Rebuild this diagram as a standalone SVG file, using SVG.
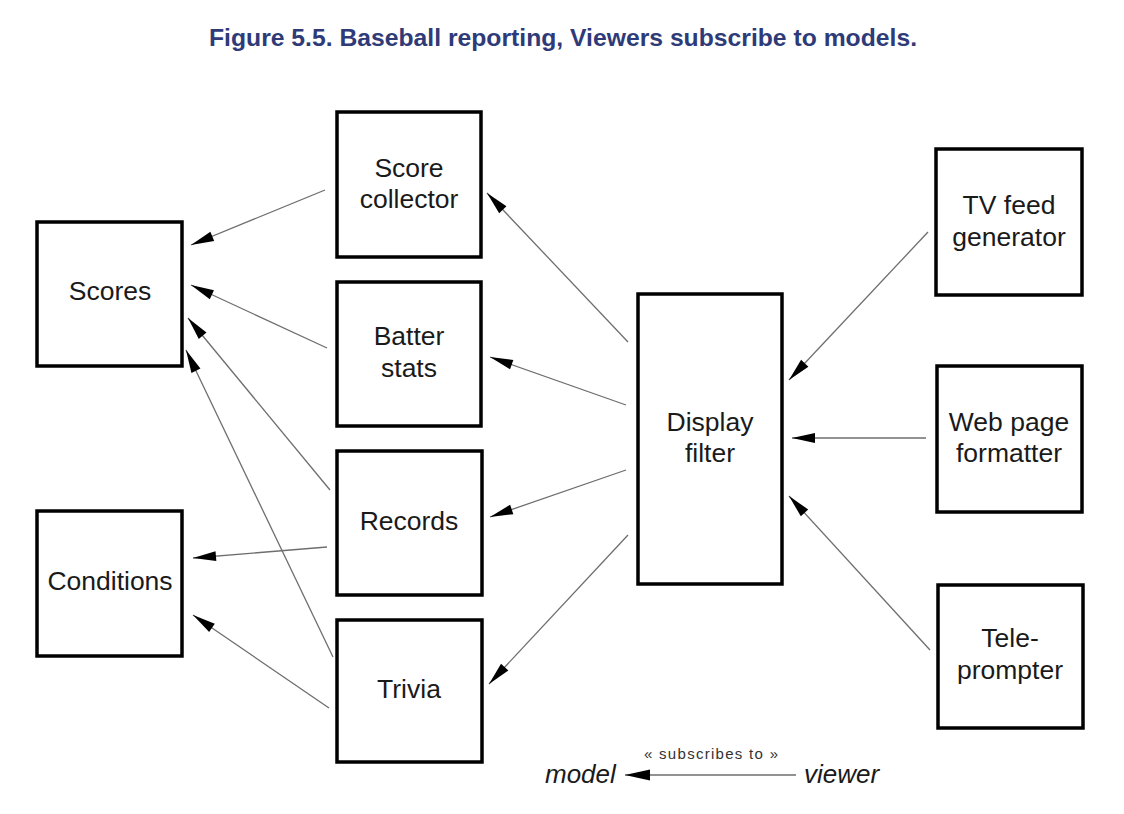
<svg xmlns="http://www.w3.org/2000/svg" width="1124" height="814" viewBox="0 0 1124 814">
<defs>
<style>
.box{fill:#fff;stroke:#000;stroke-width:3.5}
.lbl{font-family:"Liberation Sans",Arial,sans-serif;font-size:26.5px;fill:#1a1a1a;text-anchor:middle}
.con{stroke:#6e6e6e;stroke-width:1.3;fill:none;marker-end:url(#ah)}
.title{font-family:"Liberation Sans",Arial,sans-serif;font-size:24px;font-weight:bold;fill:#2e3b78;text-anchor:middle}
.leg{font-family:"Liberation Sans",Arial,sans-serif;font-size:26px;font-style:italic;fill:#1a1a1a}
</style>
<marker id="ah" markerUnits="userSpaceOnUse" markerWidth="26" markerHeight="12" viewBox="0 -6 24 12" refX="23" refY="0" orient="auto">
<path d="M0,-5 L23,0 L0,5 Z" fill="#000"/>
</marker>
<marker id="ah2" markerUnits="userSpaceOnUse" markerWidth="28" markerHeight="14" viewBox="0 -7 26 14" refX="25" refY="0" orient="auto">
<path d="M0,-5.5 L25,0 L0,5.5 Z" fill="#000"/>
</marker>
</defs>
<rect width="1124" height="814" fill="#fff"/>
<text class="title" x="563" y="46" textLength="708" lengthAdjust="spacingAndGlyphs">Figure 5.5. Baseball reporting, Viewers subscribe to models.</text>

<g id="connectors">
<line class="con" x1="325" y1="190" x2="191" y2="245"/>
<line class="con" x1="327" y1="348" x2="191" y2="285"/>
<line class="con" x1="330" y1="490" x2="188" y2="318"/>
<line class="con" x1="333" y1="657" x2="186" y2="350"/>
<line class="con" x1="327" y1="547" x2="193" y2="558"/>
<line class="con" x1="329" y1="708" x2="193" y2="615"/>
<line class="con" x1="628" y1="342" x2="487" y2="193"/>
<line class="con" x1="626" y1="405" x2="490" y2="357"/>
<line class="con" x1="626" y1="470" x2="490" y2="517"/>
<line class="con" x1="628" y1="535" x2="489" y2="684"/>
<line class="con" x1="928" y1="232" x2="789" y2="380"/>
<line class="con" x1="926" y1="438" x2="792" y2="438"/>
<line class="con" x1="930" y1="650" x2="789" y2="496"/>
</g>

<g id="scores"><rect class="box" x="37" y="222" width="145" height="144"/><text class="lbl" x="110" y="300">Scores</text></g>
<g id="conditions"><rect class="box" x="37" y="511" width="145" height="145"/><text class="lbl" x="110" y="590">Conditions</text></g>
<g id="score-collector"><rect class="box" x="337" y="112" width="144" height="145"/><text class="lbl" x="409" y="177">Score</text><text class="lbl" x="409" y="208">collector</text></g>
<g id="batter-stats"><rect class="box" x="337" y="282" width="144" height="144"/><text class="lbl" x="409" y="345">Batter</text><text class="lbl" x="409" y="377">stats</text></g>
<g id="records"><rect class="box" x="337" y="451" width="145" height="144"/><text class="lbl" x="409" y="530">Records</text></g>
<g id="trivia"><rect class="box" x="337" y="620" width="145" height="142"/><text class="lbl" x="409" y="698">Trivia</text></g>
<g id="display-filter"><rect class="box" x="638" y="294" width="144" height="290"/><text class="lbl" x="710" y="431">Display</text><text class="lbl" x="710" y="462">filter</text></g>
<g id="tv-feed-generator"><rect class="box" x="936" y="149" width="146" height="146"/><text class="lbl" x="1009" y="214">TV feed</text><text class="lbl" x="1009" y="246">generator</text></g>
<g id="web-page-formatter"><rect class="box" x="937" y="366" width="145" height="146"/><text class="lbl" x="1009" y="431">Web page</text><text class="lbl" x="1009" y="462">formatter</text></g>
<g id="teleprompter"><rect class="box" x="938" y="585" width="145" height="143"/><text class="lbl" x="1010" y="647">Tele-</text><text class="lbl" x="1010" y="679">prompter</text></g>

<g id="legend">
<text class="leg" x="545" y="783">model</text>
<line x1="796" y1="775" x2="625" y2="775" stroke="#6e6e6e" stroke-width="1.3" marker-end="url(#ah2)"/>
<text class="leg" x="804" y="783">viewer</text>
<text x="711" y="759" font-family="Liberation Sans,Arial,sans-serif" font-size="15" fill="#333" text-anchor="middle" textLength="134" lengthAdjust="spacing">« subscribes to »</text>
</g>
</svg>
